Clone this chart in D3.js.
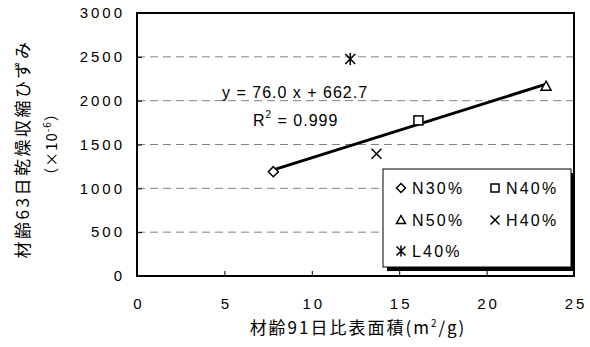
<!DOCTYPE html>
<html>
<head>
<meta charset="utf-8">
<script src="https://cdn.jsdelivr.net/npm/d3@7"></script>
<style>
  html, body { margin: 0; padding: 0; background: #fff; }
  svg { display: block; }
  text { font-family: "Liberation Sans", Arial, "Noto Sans CJK JP", sans-serif; fill: #000; }
  .jp { font-family: "Noto Sans CJK JP", sans-serif; }
</style>
</head>
<body>
<svg id="chart" width="590" height="347"></svg>
<script>
// Specific surface area at 91 days (m2/g) vs drying shrinkage at 63 days (x10^-6)
const seriesNames = ["N30%", "N40%", "N50%", "H40%", "L40%"];
const surfaceArea = [7.8, 16.1, 23.4, 13.7, 12.2];
const shrinkage = [1190, 1775, 2165, 1395, 2475];
const markerShapes = ["diamond", "square", "triangle", "cross", "asterisk"];
const fitSeries = ["N30%", "N40%", "N50%"];
const xTicks = [0, 5, 10, 15, 20, 25];
const yTicks = [0, 500, 1000, 1500, 2000, 2500, 3000];
const equationText = "y = 76.0 x + 662.7";
const r2Value = "0.999";

const svg = d3.select("#chart");
const plot = { left: 137, top: 13, right: 574, bottom: 276 };

const x = d3.scaleLinear().domain([0, 25]).range([plot.left, plot.right]);
const y = d3.scaleLinear().domain([0, 3000]).range([plot.bottom, plot.top]);

// dashed horizontal gridlines
svg.append("g")
  .selectAll("line")
  .data(yTicks.filter(v => v > 0 && v < 3000))
  .join("line")
  .attr("x1", plot.left).attr("x2", plot.right)
  .attr("y1", d => y(d)).attr("y2", d => y(d))
  .attr("stroke", "#808080").attr("stroke-width", 1)
  .attr("stroke-dasharray", "8,5");

// axes with inward ticks
const yAxis = svg.append("g")
  .attr("transform", `translate(${plot.left},0)`)
  .call(d3.axisLeft(y).tickValues(yTicks).tickSize(-5).tickPadding(12).tickFormat(d3.format("d")));
const xAxis = svg.append("g")
  .attr("transform", `translate(0,${plot.bottom})`)
  .call(d3.axisBottom(x).tickValues(xTicks).tickSize(-5).tickPadding(22).tickFormat(d3.format("d")));
[yAxis, xAxis].forEach(g => {
  g.select(".domain").remove();
  g.selectAll(".tick line").attr("stroke", "#000").attr("stroke-width", 1);
  g.selectAll(".tick text").attr("font-size", 15).attr("letter-spacing", "3px")
    .attr("font-family", "'Liberation Sans', Arial, sans-serif");
});
xAxis.selectAll(".tick text").attr("dx", "1.5px");

// plot frame
svg.append("rect")
  .attr("x", plot.left).attr("y", plot.top)
  .attr("width", plot.right - plot.left).attr("height", plot.bottom - plot.top)
  .attr("fill", "none").attr("stroke", "#000").attr("stroke-width", 2);

// least-squares line over the N series
const fitIdx = fitSeries.map(n => seriesNames.indexOf(n));
const fx = fitIdx.map(i => surfaceArea[i]);
const fy = fitIdx.map(i => shrinkage[i]);
const mx = d3.mean(fx), my = d3.mean(fy);
const slope = d3.sum(fx, (v, i) => (v - mx) * (fy[i] - my)) / d3.sum(fx, v => (v - mx) ** 2);
const intercept = my - slope * mx;
const [xMin, xMax] = d3.extent(fx);
svg.append("line")
  .attr("x1", x(xMin)).attr("y1", y(slope * xMin + intercept))
  .attr("x2", x(xMax)).attr("y2", y(slope * xMax + intercept))
  .attr("stroke", "#000").attr("stroke-width", 3);

// marker drawing
function drawMarker(g, shape, cx, cy, s) {
  const st = { stroke: "#000", "stroke-width": 1.5, fill: "#fff" };
  let el;
  if (shape === "diamond") {
    el = g.append("path").attr("d", `M${cx},${cy - s}L${cx + s},${cy}L${cx},${cy + s}L${cx - s},${cy}Z`);
  } else if (shape === "square") {
    el = g.append("rect").attr("x", cx - s + 0.5).attr("y", cy - s + 0.5).attr("width", 2 * s - 1).attr("height", 2 * s - 1);
  } else if (shape === "triangle") {
    el = g.append("path").attr("d", `M${cx},${cy - s}L${cx + s},${cy + s * 0.8}L${cx - s},${cy + s * 0.8}Z`);
  } else if (shape === "cross") {
    el = g.append("path").attr("d", `M${cx - s},${cy - s}L${cx + s},${cy + s}M${cx + s},${cy - s}L${cx - s},${cy + s}`);
  } else {
    el = g.append("path").attr("d", `M${cx - s},${cy - s}L${cx + s},${cy + s}M${cx + s},${cy - s}L${cx - s},${cy + s}M${cx},${cy - s - 1}L${cx},${cy + s + 1}`);
  }
  Object.entries(st).forEach(([k, v]) => el.attr(k, v));
  if (shape === "cross" || shape === "asterisk") el.attr("fill", "none");
}

const pts = svg.append("g");
seriesNames.forEach((n, i) => {
  drawMarker(pts, markerShapes[i], x(surfaceArea[i]), y(shrinkage[i]), 5);
});

// regression annotation
svg.append("text").attr("x", 222).attr("y", 98)
  .attr("font-size", 16).attr("letter-spacing", "1px").text(equationText);
const r2 = svg.append("text").attr("x", 253).attr("y", 126).attr("font-size", 16).attr("letter-spacing", "1px");
r2.append("tspan").text("R");
r2.append("tspan").attr("font-size", 10).attr("dy", -8).text("2");
r2.append("tspan").attr("dy", 8).text(" = " + r2Value);

// legend with drop shadow
const lg = { x: 383, y: 169, w: 188, h: 98 };
svg.append("rect").attr("x", lg.x + 4).attr("y", lg.y + 4).attr("width", lg.w).attr("height", lg.h).attr("fill", "#000");
svg.append("rect").attr("x", lg.x).attr("y", lg.y).attr("width", lg.w).attr("height", lg.h)
  .attr("fill", "#fff").attr("stroke", "#000").attr("stroke-width", 1);
const legendPos = [[401, 188], [495, 188], [401, 220], [495, 220], [401, 251]];
seriesNames.forEach((n, i) => {
  const [lx, ly] = legendPos[i];
  drawMarker(svg, markerShapes[i], lx, ly, 4.5);
  svg.append("text").attr("x", lx + 11).attr("y", ly + 6).attr("font-size", 16)
    .attr("letter-spacing", "2.2px").text(n);
});

// axis titles
const xt = svg.append("text").attr("class", "jp").attr("x", 358).attr("y", 334)
  .attr("text-anchor", "middle").attr("font-size", 17).attr("letter-spacing", "2px");
xt.append("tspan").text("材齢91日比表面積(m");
xt.append("tspan").attr("font-size", 10).attr("dy", -7).text("2");
xt.append("tspan").attr("dy", 7).text("/g)");

svg.append("text").attr("class", "jp")
  .attr("transform", "translate(29,149) rotate(-90)")
  .attr("text-anchor", "middle").attr("font-size", 17).attr("letter-spacing", "2.5px")
  .text("材齢63日乾燥収縮ひずみ");
const yt2 = svg.append("text").attr("class", "jp")
  .attr("transform", "translate(57,144) rotate(-90)")
  .attr("text-anchor", "middle").attr("font-size", 15).attr("letter-spacing", "1px");
yt2.append("tspan").text("（×10");
yt2.append("tspan").attr("font-size", 10).attr("dy", -6).text("-6");
yt2.append("tspan").attr("dy", 6).text("）");
</script>
</body>
</html>
